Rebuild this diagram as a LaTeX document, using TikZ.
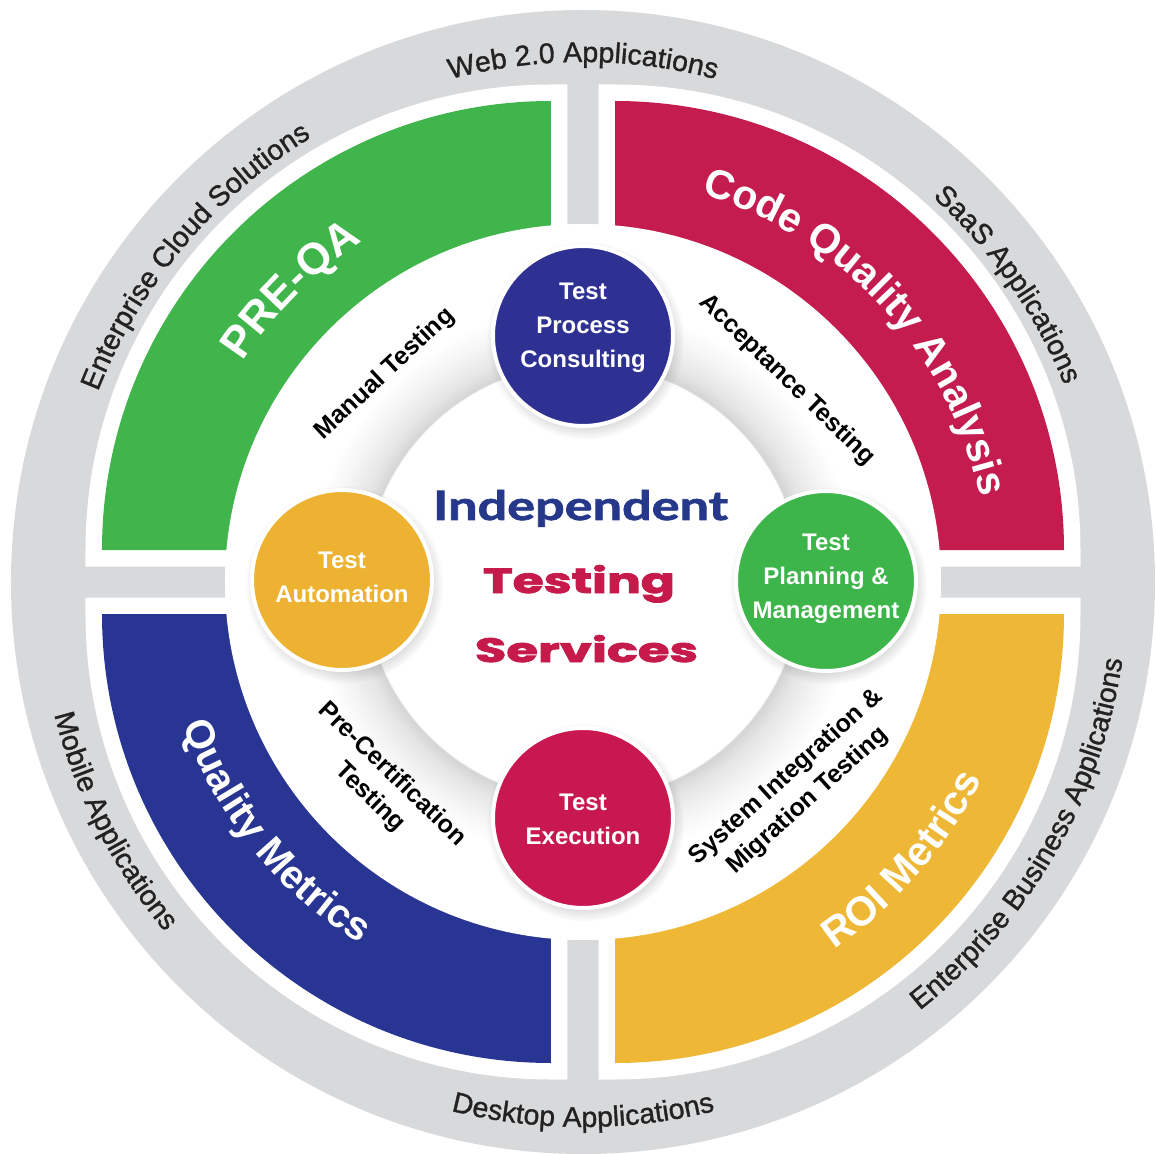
\documentclass[tikz,border=0pt]{standalone}
\usepackage{fontspec}
\setmainfont{Liberation Sans}
\newfontfamily\ringfont[FakeBold=1.1]{Liberation Sans}
\newfontfamily\latofam[BoldFeatures={FakeBold=1.6}]{Lato}
\newfontfamily\popfam[BoldFeatures={FakeBold=2.2}]{Poppins}
\usepackage{graphicx}
\usetikzlibrary{decorations.text,shadows}
\definecolor{ringgrey}{HTML}{D8D9DA}
\definecolor{qgreen}{HTML}{40B54B}
\definecolor{qred}{HTML}{C41C4E}
\definecolor{qblue}{HTML}{283593}
\definecolor{qyellow}{HTML}{EEB735}
\definecolor{cblue}{HTML}{2E3192}
\definecolor{cyellow}{HTML}{EDB231}
\definecolor{cgreen}{HTML}{3DB54A}
\definecolor{cred}{HTML}{C8184F}
\definecolor{ringtext}{HTML}{222222}
\definecolor{titleblue}{HTML}{26388A}
\definecolor{titlered}{HTML}{C51A4A}
\pgfdeclareradialshading{ringshade}{\pgfpoint{0bp}{0bp}}{%
color(0bp)=(white); color(18.6bp)=(white); color(18.8bp)=(black!17);
color(20bp)=(black!10); color(22bp)=(black!4); color(23.8bp)=(white); color(25bp)=(white); color(50bp)=(white)}
\newcommand\curvetext[6]{%
  \path[decorate, decoration={text along path, text align=center, text color=#2,
    text={|#1|#6}}] (#3:#5) arc[start angle=#3, end angle=#4, radius=#5];}
\begin{document}
\begin{tikzpicture}[x=0.75pt,y=0.75pt,
  smallc/.style={circle, minimum size=135pt, inner sep=0pt, draw=white, line width=3pt,
    circular drop shadow={shadow xshift=1.5pt, shadow yshift=-3pt, shadow scale=1.1, opacity=0.3}},
  ctext/.style={text=white, align=center, inner sep=0pt,
    font=\bfseries\fontsize{18pt}{25.5pt}\selectfont},
  inlab/.style={text=black, align=center, inner sep=0pt,
    font=\bfseries\fontsize{18.75pt}{24pt}\selectfont}]
\useasboundingbox (-583,-571) rectangle (573,582);
\fill[white] (-583,-571) rectangle (573,582);
\fill[ringgrey] (0,0) circle[radius=572];
% white frames
\foreach \cx/\cy/\a in {-32/32/90, 32/32/0, -32/-32/180, 32/-32/270}{
  \draw[white, line width=24.75pt, line join=miter]
    (\cx,\cy) -- ++(\a:449) arc[start angle=\a, end angle=\a+90, radius=449] -- cycle;
}
% coloured bands
\foreach \cx/\cy/\a/\col in {-32/32/90/qgreen, 32/32/0/qred, -32/-32/180/qblue, 32/-32/270/qyellow}{
  \fill[\col] (\cx,\cy) -- ++(\a:449) arc[start angle=\a, end angle=\a+90, radius=449] -- cycle;
}
% central white disk and inner disk
\fill[white] (0,0) circle[radius=358];
\shade[shading=ringshade] (0,0) circle[radius=290];
\fill[white] (0,0) circle[radius=218];
\draw[black!10, line width=0.6pt] (0,0) circle[radius=218];
% outer ring labels
\curvetext{\ringfont\fontsize{21.4pt}{26pt}\selectfont}{ringtext}{135}{45}{520}{Web 2.0 Applications}
\curvetext{\ringfont\fontsize{21.4pt}{26pt}\selectfont}{ringtext}{80}{-10}{520}{SaaS Applications}
\curvetext{\ringfont\fontsize{21.4pt}{26pt}\selectfont}{ringtext}{185}{95}{521}{Enterprise Cloud Solutions}
\curvetext{\ringfont\fontsize{21.4pt}{26pt}\selectfont}{ringtext}{225}{315}{545}{Desktop Applications}
\curvetext{\ringfont\fontsize{21.4pt}{26pt}\selectfont}{ringtext}{162}{252}{545}{Mobile Applications}
\curvetext{\ringfont\fontsize{21.4pt}{26pt}\selectfont}{ringtext}{-80}{20}{545}{Enterprise Business Applications}
% band labels
\curvetext{\bfseries\fontsize{33pt}{36pt}\selectfont}{white}{175}{95}{405}{PRE-QA}
\curvetext{\bfseries\fontsize{30.75pt}{33pt}\selectfont}{white}{90}{-5}{406}{Code Quality Analysis}
\curvetext{\bfseries\fontsize{30pt}{33pt}\selectfont}{white}{174}{264}{425}{Quality Metrics}
\curvetext{\bfseries\fontsize{30.75pt}{33pt}\selectfont}{white}{-86}{4}{445}{ROI Metrics}
% small circles
\node[smallc, fill=cblue] (tpc) at (0,246) {};
\node[smallc, fill=cyellow] (ta) at (-241,2) {};
\node[smallc, fill=cgreen] (tpm) at (243,1) {};
\node[smallc, fill=cred] (te) at (0,-236) {};
\node[ctext] (tpct) at (0,254) {Test\\Process\\Consulting};
\node[ctext] (tat) at (-241,5) {Test\\Automation};
\node[ctext] (tpmt) at (243,3) {Test\\Planning \&\\Management};
\node[ctext] (tet) at (0,-237) {Test\\Execution};
% title
\node[anchor=base, inner sep=0pt, text=titleblue] (ind) at (-2.5,62)
  {\resizebox{221.25pt}{22.5pt}{\latofam\bfseries Independent}};
\node[anchor=base, inner sep=0pt, text=titlered] (tst) at (-4,-11)
  {\resizebox{144pt}{21pt}{\popfam\bfseries Testing}};
\node[anchor=base, inner sep=0pt, text=titlered] (svc) at (3.5,-80)
  {\resizebox{167.25pt}{20.25pt}{\popfam\bfseries Services}};
% inner labels
\node[inlab, rotate=43] (mt) at (-198,208) {Manual Testing};
\node[inlab, rotate=-44] (acc) at (204,202) {Acceptance Testing};
\node[inlab, rotate=-44] (pct) at (-202,-204) {Pre-Certification\\Testing};
\node[inlab, rotate=42] (sit) at (214,-207) {System Integration \&\\Migration Testing};
\end{tikzpicture}
\end{document}
